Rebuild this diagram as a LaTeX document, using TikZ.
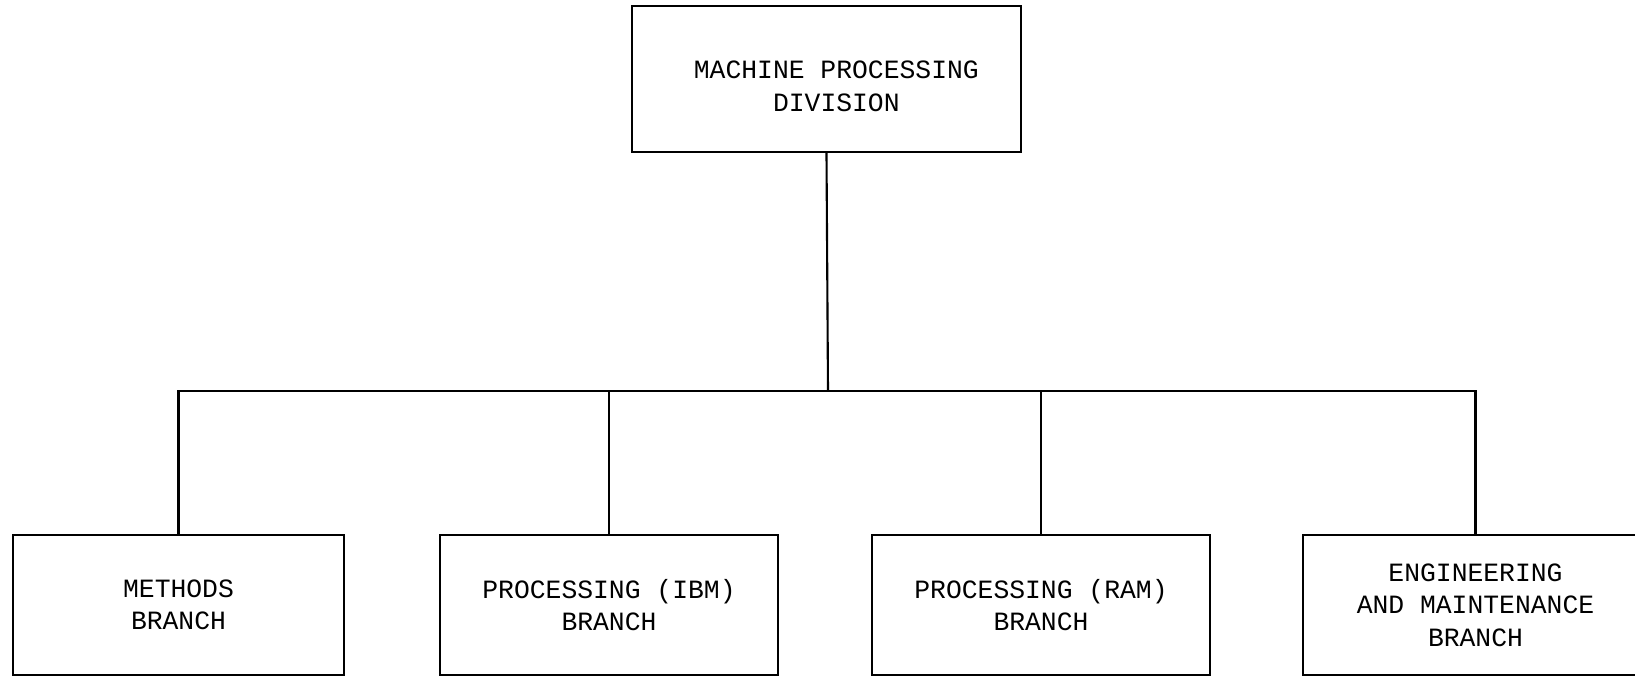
\documentclass[tikz,border=0pt]{standalone}
\usepackage{fontspec}
\setmonofont{Liberation Mono}
\usepackage{tikz}
\tikzset{every picture/.style={line width=0.6pt}}
\tikzset{unitbox/.style = {shape=rectangle,draw,align=center,inner sep=0pt,
  font=\ttfamily\fontsize{7.5}{9.2}\selectfont}}
\tikzset{link/.style = {line width=0.6pt}}

\begin{document}
\begin{tikzpicture}[x=0.01cm,y=-0.01cm]
\clip (0,0) rectangle (1635,677);
\fill[white] (0,0) rectangle (1635,677);
\node[unitbox,minimum width=3.89cm,minimum height=1.46cm] (div) at (826.5,79) {\hspace*{5.6pt}\raisebox{-4.5pt}[0pt][0pt]{\begin{tabular}{@{}c@{}}MACHINE PROCESSING\\DIVISION\end{tabular}}};
\node[unitbox,minimum width=3.31cm,minimum height=1.40cm] (methods) at (178.5,605) {METHODS\\BRANCH};
\node[unitbox,minimum width=3.38cm,minimum height=1.40cm] (ibm) at (609,605) {PROCESSING (IBM)\\BRANCH};
\node[unitbox,minimum width=3.38cm,minimum height=1.40cm] (ram) at (1041,605) {PROCESSING (RAM)\\BRANCH};
\node[unitbox,minimum width=3.45cm,minimum height=1.40cm] (eng) at (1475.5,605) {ENGINEERING\\AND MAINTENANCE\\BRANCH};
%
\coordinate (bar) at (828,391);
\draw[link] (div.south) -- (bar);
\draw[link] (methods.north) |- (eng.north |- bar) -- (eng.north);
\draw[link] (ibm.north) -- (ibm.north |- bar);
\draw[link] (ram.north) -- (ram.north |- bar);
\end{tikzpicture}
\end{document}
